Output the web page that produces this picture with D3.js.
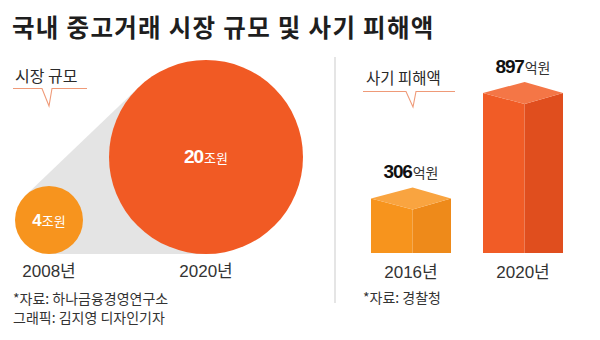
<!DOCTYPE html>
<html><head><meta charset="utf-8">
<script src="https://cdn.jsdelivr.net/npm/d3@7"></script>
<style>
html,body{margin:0;padding:0;background:#fff;}
svg{display:block;}
</style></head>
<body>
<svg id="c" width="600" height="340"></svg>
<script>
// ---- data ----
const title = "국내 중고거래 시장 규모 및 사기 피해액";
const marketLabel = "시장 규모";
const marketYears = ["2008년", "2020년"];
const marketValues = [4, 20];           // 조원
const marketUnit = "조원";
const fraudLabel = "사기 피해액";
const fraudYears = ["2016년", "2020년"];
const fraudValues = [306, 897];         // 억원
const fraudUnit = "억원";
const sourceLeft = "*자료: 하나금융경영연구소";
const creditLeft = "그래픽: 김지영 디자인기자";
const sourceRight = "*자료: 경찰청";

const KR = "'Noto Sans CJK KR', sans-serif";
const MIX = "'Liberation Sans', 'Noto Sans CJK KR', sans-serif";

const svg = d3.select("#c");

// title
svg.append("text").attr("x", 12).attr("y", 37)
  .attr("font-family", KR).attr("font-weight", 700).attr("font-size", 24.5)
  .attr("fill", "#1e1e1e").attr("letter-spacing", 1.3).text(title);

// callout labels
function callout(text, x, y, lx0, lx1, ly, nx, ny, fs) {
  svg.append("text").attr("x", x).attr("y", y)
    .attr("font-family", KR).attr("font-size", fs).attr("fill", "#2a2a2a").text(text);
  const pts = [[lx0, ly], [nx - 4, ly], [nx + 3, ny], [nx + 6, ly], [lx1, ly]];
  svg.append("path").attr("d", d3.line()(pts))
    .attr("fill", "none").attr("stroke", "#ef9a78").attr("stroke-width", 1.1);
}
callout(marketLabel, 15, 82, 13, 87, 88.5, 46, 106, 16);
callout(fraudLabel, 366, 84, 363, 455, 91.5, 410, 107, 15.5);

// divider
svg.append("line").attr("x1", 335).attr("x2", 335).attr("y1", 57).attr("y2", 303)
  .attr("stroke", "#dcdcdc").attr("stroke-width", 1.5);

// ---- bubbles ----
const baseY = 254;
const cx = d3.scalePoint().domain(marketYears).range([49, 206]);
const rS = d3.scaleLinear().domain([4, 20]).range([34, 97]);
const circles = marketYears.map((y, i) => ({ year: y, v: marketValues[i], x: cx(y), r: rS(marketValues[i]) }));
circles.forEach(c => c.y = baseY - c.r);

// grey connector (outer tangents)
(function () {
  const a = circles[0], b = circles[1];
  const dx = b.x - a.x, dy = b.y - a.y, D = Math.hypot(dx, dy);
  const base = Math.atan2(dy, dx), th = Math.acos((b.r - a.r) / D);
  const ang = base + th;
  const n = [Math.cos(ang), Math.sin(ang)];
  const p1 = [a.x - a.r * n[0], a.y - a.r * n[1]];
  const p2 = [b.x - b.r * n[0], b.y - b.r * n[1]];
  const pts = [p1, p2, [b.x, b.y + b.r], [a.x, a.y + a.r]];
  svg.append("path").attr("d", d3.line()(pts) + "Z").attr("fill", "#e4e4e4");
})();

const circColors = ["#f7941e", "#f15a24"];
svg.selectAll("circle.b").data(circles).join("circle")
  .attr("cx", d => d.x).attr("cy", d => d.y).attr("r", d => d.r)
  .attr("fill", (d, i) => circColors[i]);

const numFs = [17, 19];
circles.forEach((c, i) => {
  const t = svg.append("text").attr("x", c.x).attr("y", c.y + 6)
    .attr("text-anchor", "middle").attr("fill", "#fff");
  t.append("tspan").attr("font-family", "'Liberation Sans', sans-serif").attr("font-weight", 700)
    .attr("font-size", numFs[i]).attr("letter-spacing", -1).text(c.v);
  t.append("tspan").attr("font-family", KR).attr("font-size", 13).attr("dx", 1).text(marketUnit);
});
svg.selectAll("text.my").data(circles).join("text")
  .attr("x", d => d.x).attr("y", 277)
  .attr("text-anchor", "middle").attr("font-family", MIX).attr("font-size", 17)
  .attr("fill", "#333").text(d => d.year);

// ---- 3D bars ----
const xb = d3.scaleBand().domain(fraudYears).range([355, 579]).paddingInner(0.2857).paddingOuter(0.1428);
const yb = d3.scaleLinear().domain([0, 897]).range([253, 93]);
const barCols = [
  { left: "#f7941d", right: "#ee8a1a", top: "#f9a440" },
  { left: "#f15c26", right: "#e04e1e", top: "#f47646" }
];
const dz = 11;
fraudYears.forEach((yr, i) => {
  const x0 = xb(yr), w = xb.bandwidth(), xm = x0 + w * 0.52, x1 = x0 + w;
  const yt = yb(fraudValues[i]), y0 = yb(0);
  const c = barCols[i];
  svg.append("path").attr("d", d3.line()([[x0, yt], [xm, yt + dz], [xm, y0], [x0, y0]]) + "Z").attr("fill", c.left);
  svg.append("path").attr("d", d3.line()([[xm, yt + dz], [x1, yt], [x1, y0], [xm, y0]]) + "Z").attr("fill", c.right);
  svg.append("path").attr("d", d3.line()([[x0, yt], [xm, yt - dz], [x1, yt], [xm, yt + dz]]) + "Z").attr("fill", c.top);
  const t = svg.append("text").attr("x", x0 + w / 2).attr("y", yt - 20)
    .attr("text-anchor", "middle").attr("fill", "#111");
  t.append("tspan").attr("font-family", "'Liberation Sans', sans-serif").attr("font-weight", 700)
    .attr("font-size", 19).attr("letter-spacing", -1.2).text(fraudValues[i]);
  t.append("tspan").attr("font-family", KR).attr("font-size", 14).attr("fill", "#333").attr("dx", 1).text(fraudUnit);
  svg.append("text").attr("x", x0 + w / 2).attr("y", 278)
    .attr("text-anchor", "middle").attr("font-family", MIX).attr("font-size", 17)
    .attr("fill", "#333").text(yr);
});

// sources
svg.append("text").attr("x", 13).attr("y", 304).attr("font-family", KR).attr("font-size", 14)
  .attr("fill", "#333").text(sourceLeft);
svg.append("text").attr("x", 13).attr("y", 323).attr("font-family", KR).attr("font-size", 14)
  .attr("fill", "#333").text(creditLeft);
svg.append("text").attr("x", 363).attr("y", 303).attr("font-family", KR).attr("font-size", 14)
  .attr("fill", "#333").text(sourceRight);
</script>
</body></html>
